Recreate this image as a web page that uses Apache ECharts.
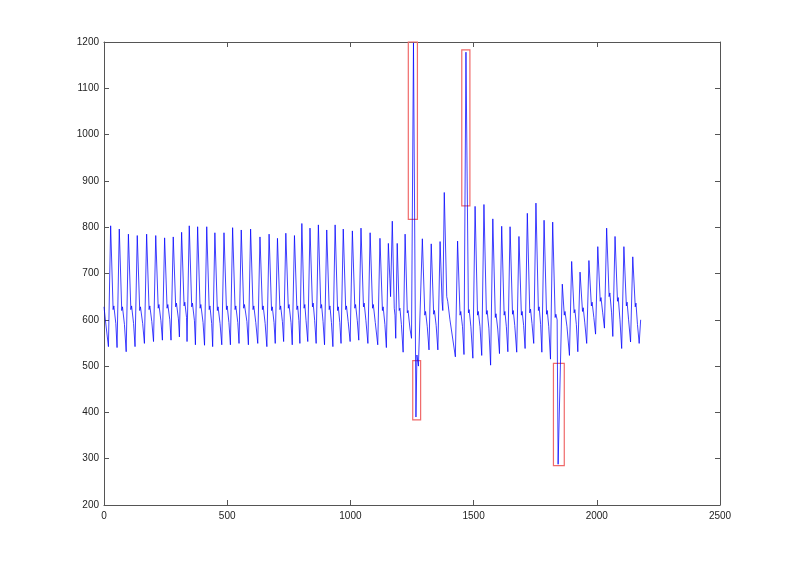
<!DOCTYPE html>
<html>
<head>
<meta charset="utf-8">
<script src="https://cdn.jsdelivr.net/npm/echarts@6/dist/echarts.min.js"></script>
<style>
html,body{margin:0;padding:0;background:#fff;}
#chart{width:800px;height:567px;}
</style>
</head>
<body>
<div id="chart"></div>
<script>
// x ticks / y ticks
var xTicks = [0, 500, 1000, 1500, 2000, 2500];
var yTicks = [200, 300, 400, 500, 600, 700, 800, 900, 1000, 1100, 1200];

// signal key points: [sample index, value]
var signal = [
[0,628],[6,598],[18,542],[27,803],[37,622],[40,630],[48,592],
[53,540],[62,796],[72,620],[75,628],[83,590],
[90,531],[99,785],[109,622],[112,630],[120,592],
[126,542],[135,782],[145,620],[148,628],[157,592],
[164,549],[173,785],[183,622],[186,630],[194,596],
[201,553],[210,782],[220,625],[223,633],[231,598],
[237,556],[246,777],[256,625],[259,633],[267,600],
[272,556],[281,779],[291,628],[294,636],[302,602],
[306,563],[315,789],[325,630],[328,638],[335,605],
[337,553],[346,803],[356,628],[359,636],[367,598],
[371,546],[380,801],[390,625],[393,633],[402,594],
[408,545],[417,801],[427,622],[430,630],[437,592],
[441,542],[450,788],[460,620],[463,628],[471,592],
[478,546],[487,788],[497,622],[500,630],[507,594],
[513,546],[522,799],[532,622],[535,630],[543,594],
[548,549],[557,794],[567,625],[570,633],[580,596],
[586,546],[595,796],[605,622],[608,630],[616,594],
[624,549],[633,779],[643,622],[646,630],[654,592],
[661,542],[670,785],[680,620],[683,628],[690,594],
[695,549],[704,776],[714,622],[717,630],[724,596],
[729,553],[738,787],[748,625],[751,633],[759,594],
[764,546],[773,782],[783,622],[786,630],[791,598],
[795,549],[803,808],[812,625],[815,633],[820,598],
[827,553],[836,798],[846,628],[849,636],[855,598],
[861,549],[870,805],[880,625],[883,633],[889,596],
[895,546],[904,794],[914,622],[917,630],[923,594],
[929,542],[938,805],[948,620],[951,628],[957,594],
[962,549],[971,796],[981,622],[984,630],[991,596],
[999,553],[1008,792],[1018,625],[1021,633],[1028,598],
[1034,556],[1043,798],[1053,628],[1056,636],[1063,598],
[1071,549],[1080,788],[1090,625],[1093,633],[1101,594],
[1111,546],[1120,776],[1130,620],[1133,628],[1140,590],
[1146,540],[1154,765],[1160,690],[1163,650],
[1170,813],[1178,625],[1181,610],[1184,560],
[1190,765],[1198,620],[1201,625],[1207,590],
[1214,530],[1222,785],[1231,615],[1234,620],[1242,580],
[1248,560],[1256,1198],[1266,390],[1270,524],[1276,500],[1283,500],
[1292,775],[1302,610],[1305,618],[1312,585],
[1319,535],[1328,764],[1338,612],[1341,620],[1348,588],
[1355,535],[1364,769],[1372,640],[1375,620],
[1381,875],[1391,650],[1395,640],[1404,600],
[1426,520],[1435,770],[1445,610],[1448,618],[1455,585],
[1461,525],[1469,1178],[1479,615],[1482,622],[1489,585],
[1497,517],[1506,845],[1516,610],[1519,618],[1526,585],
[1533,523],[1542,849],[1552,612],[1555,620],[1562,582],
[1569,502],[1578,818],[1588,605],[1591,613],[1598,580],
[1605,527],[1614,802],[1624,610],[1627,618],[1633,585],
[1639,531],[1648,801],[1658,612],[1661,620],[1667,588],
[1675,530],[1684,780],[1694,610],[1697,618],[1703,588],
[1709,538],[1718,830],[1728,615],[1731,623],[1737,592],
[1744,549],[1753,852],[1763,620],[1766,628],[1772,590],
[1777,530],[1786,815],[1796,612],[1799,620],[1805,585],
[1812,515],[1821,811],[1831,605],[1834,612],[1839,600],
[1843,288],
[1860,677],[1868,610],[1871,618],[1879,585],
[1889,523],[1898,726],[1908,615],[1911,622],[1917,590],
[1923,531],[1932,703],[1942,618],[1945,626],[1951,595],
[1959,549],[1968,728],[1978,630],[1981,638],[1988,605],
[1995,569],[2004,758],[2014,640],[2017,648],[2024,615],
[2031,582],[2040,798],[2050,650],[2053,658],[2060,615],
[2065,564],[2074,780],[2084,640],[2087,648],[2094,600],
[2101,538],[2110,758],[2120,630],[2123,638],[2129,600],
[2137,552],[2146,736],[2156,628],[2159,636],[2165,590],
[2172,549],[2178,600]
];

// anomaly windows: [xStart, xEnd, yLow, yHigh]
var anomalyWindows = [
  [1235, 1272, 817, 1200],
  [1452, 1485, 846, 1183],
  [1253, 1285, 384, 512],
  [1824, 1868, 285, 506]
];

var chart = echarts.init(document.getElementById('chart'), null, {renderer: 'canvas'});
var axisColor = '#555555';
var font = {fontFamily: 'Liberation Sans, Arial, sans-serif', fontSize: 10, color: '#222',
            formatter: function (v) { return String(v); }};

function mkX(pos, showLabel) {
  return {
    type: 'value', position: pos, min: xTicks[0], max: xTicks[xTicks.length - 1],
    interval: xTicks[1] - xTicks[0],
    axisLine: {show: true, onZero: false, lineStyle: {color: axisColor, width: 1}},
    axisTick: {show: true, inside: true, length: 5, lineStyle: {color: axisColor}},
    axisLabel: Object.assign({show: showLabel, margin: 6}, font),
    splitLine: {show: false}
  };
}
function mkY(pos, showLabel) {
  return {
    type: 'value', position: pos, min: yTicks[0], max: yTicks[yTicks.length - 1],
    interval: yTicks[1] - yTicks[0],
    axisLine: {show: true, onZero: false, lineStyle: {color: axisColor, width: 1}},
    axisTick: {show: true, inside: true, length: 5, lineStyle: {color: axisColor}},
    axisLabel: Object.assign({show: showLabel, margin: 5}, font),
    splitLine: {show: false}
  };
}

var areas = anomalyWindows.map(function (w) {
  return [{coord: [w[0], w[3]]}, {coord: [w[1], w[2]]}];
});

chart.setOption({
  animation: false,
  backgroundColor: '#ffffff',
  grid: {left: 104, right: 80, top: 42, bottom: 62, containLabel: false},
  xAxis: [mkX('bottom', true), mkX('top', false)],
  yAxis: [mkY('left', true), mkY('right', false)],
  series: [{
    type: 'line',
    data: signal,
    xAxisIndex: 0, yAxisIndex: 0,
    showSymbol: false,
    symbol: 'none',
    clip: true,
    lineStyle: {color: '#0000ff', width: 0.75},
    markArea: {
      silent: true,
      itemStyle: {color: 'rgba(0,0,0,0)', borderColor: '#f06a6a', borderWidth: 1.2},
      data: areas
    }
  }]
});
</script>
</body>
</html>
